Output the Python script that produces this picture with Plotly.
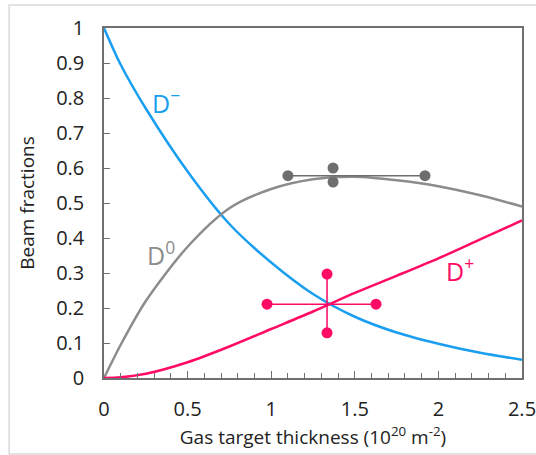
import plotly.graph_objects as go

x = [0, 0.1, 0.25, 0.5, 0.75, 1.0, 1.25, 1.5, 1.75, 2.0, 2.25, 2.5]
d_minus = [1.0, 0.895, 0.77, 0.59, 0.44, 0.33, 0.24, 0.175, 0.13, 0.098, 0.072, 0.052]
d_zero = [0.0, 0.095, 0.22, 0.375, 0.485, 0.54, 0.568, 0.575, 0.565, 0.548, 0.522, 0.49]
d_plus = [0.0, 0.002, 0.012, 0.045, 0.09, 0.14, 0.19, 0.243, 0.292, 0.342, 0.396, 0.45]

x_ticks = [0, 0.5, 1, 1.5, 2, 2.5]
x_tick_labels = ["0", "0.5", "1", "1.5", "2", "2.5"]

# error-cross points
gray_h_x = [1.1, 1.92]
gray_h_y = [0.578, 0.578]
gray_v_x = [1.37, 1.37]
gray_v_y = [0.60, 0.56]
pink_h_x = [0.975, 1.627]
pink_h_y = [0.211, 0.211]
pink_v_x = [1.334, 1.334]
pink_v_y = [0.297, 0.129]

BLUE = "#1a9ff0"
GRAY = "#8c8c8c"
DGRAY = "#6e6e6e"
PINK = "#ff0a64"
FONT = "Open Sans"

fig = go.Figure()
fig.add_trace(go.Scatter(x=x, y=d_minus, mode="lines", line=dict(color=BLUE, width=2.5, shape="spline", smoothing=0.8), showlegend=False))
fig.add_trace(go.Scatter(x=x, y=d_zero, mode="lines", line=dict(color=GRAY, width=2.5, shape="spline", smoothing=0.8), showlegend=False))
fig.add_trace(go.Scatter(x=x, y=d_plus, mode="lines", line=dict(color=PINK, width=2.5, shape="spline", smoothing=0.8), showlegend=False))

fig.add_trace(go.Scatter(x=gray_h_x, y=gray_h_y, mode="lines+markers", line=dict(color=DGRAY, width=1.5), marker=dict(color=DGRAY, size=11), showlegend=False))
fig.add_trace(go.Scatter(x=gray_v_x, y=gray_v_y, mode="markers", marker=dict(color=DGRAY, size=11), showlegend=False))
fig.add_trace(go.Scatter(x=pink_h_x, y=pink_h_y, mode="lines+markers", line=dict(color=PINK, width=1.5), marker=dict(color=PINK, size=11), showlegend=False))
fig.add_trace(go.Scatter(x=pink_v_x, y=pink_v_y, mode="lines+markers", line=dict(color=PINK, width=1.5), marker=dict(color=PINK, size=11), showlegend=False))

fig.add_annotation(x=0.37, y=0.79, text="D<sup>−</sup>", showarrow=False, font=dict(family=FONT, size=25, color=BLUE), xanchor="center", yanchor="middle")
fig.add_annotation(x=0.34, y=0.355, text="D<sup>0</sup>", showarrow=False, font=dict(family=FONT, size=25, color=GRAY), xanchor="center", yanchor="middle")
fig.add_annotation(x=2.13, y=0.31, text="D<sup>+</sup>", showarrow=False, font=dict(family=FONT, size=25, color=PINK), xanchor="center", yanchor="middle")

# outer frame
fig.add_shape(type="rect", xref="paper", yref="paper", x0=-0.227, x1=1.2, y0=-0.217, y1=1.066,
              line=dict(color="#d9d9d9", width=1.5), layer="below")

fig.update_layout(
    width=536, height=455,
    margin=dict(l=104, r=14, t=28, b=77, autoexpand=False),
    paper_bgcolor="white", plot_bgcolor="white",
    font=dict(family=FONT, size=20, color="#222222"),
    xaxis=dict(range=[0, 2.5], tickvals=x_ticks, ticktext=x_tick_labels, showgrid=False, zeroline=False,
               showline=True, linecolor="#707070", linewidth=1.5, mirror=True,
               ticks="inside", ticklen=7, tickcolor="#707070",
               minor=dict(dtick=0.1, tick0=0, ticks="inside", ticklen=5, tickcolor="#707070"),
               ticklabelstandoff=12, automargin=False, ticklabeloverflow="allow",
               title=dict(text="Gas target thickness (10<sup>20</sup> m<sup>-2</sup>)", font=dict(size=19), standoff=8),
               tickfont=dict(size=20)),
    yaxis=dict(range=[0, 1], dtick=0.1, tick0=0, showgrid=False, zeroline=False,
               showline=True, linecolor="#707070", linewidth=1.5, mirror=True,
               ticks="inside", ticklen=6, tickcolor="#707070",
               ticklabelstandoff=14, automargin=False, ticklabeloverflow="allow",
               title=dict(text="Beam fractions", font=dict(size=19), standoff=16),
               tickfont=dict(size=20)),
)

fig.write_html("out.html", config={"displayModeBar": False},
               post_script="document.body.style.margin='0';")
